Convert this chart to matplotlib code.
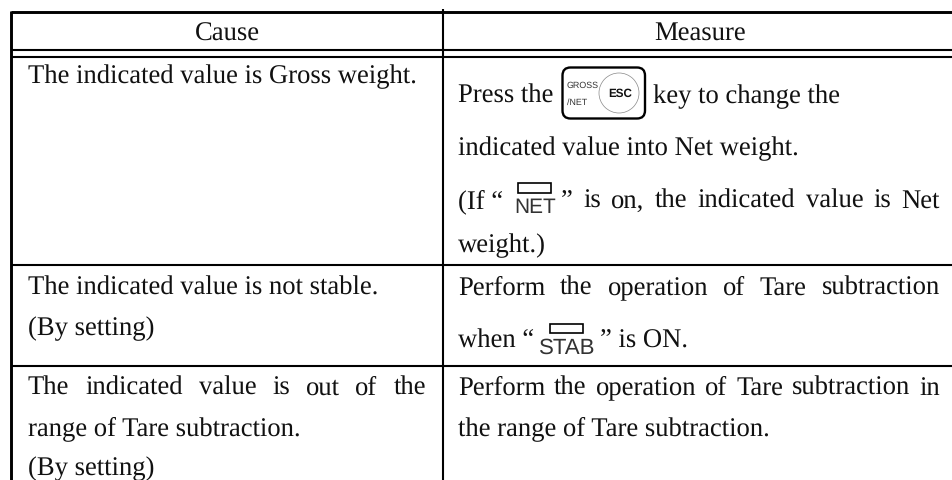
import matplotlib
matplotlib.use('Agg')
import matplotlib.pyplot as plt
import matplotlib.patches as mpatches

plt.rcParams['font.family'] = ['Liberation Serif', 'DejaVu Sans']
plt.rcParams['text.hinting'] = 'no_hinting'

FONT = 19.2
INK = '#111111'
GREY = '#333333'
SANS = 'Liberation Sans'

HEADERS = ['Cause', 'Measure']

# text, right edge when justified (None = plain), baseline
CAUSE_LINES = [
    ('The indicated value is Gross weight.', None, 83),
    ('The indicated value is not stable.', None, 295),
    ('(By setting)', None, 335),
    ('The indicated value is out of the', 426, 395),
    ('range of Tare subtraction.', None, 435),
    ('(By setting)', None, 475),
]
# left edge, text, right edge, baseline
MEASURE_LINES = [
    (458, 'Press the', None, 103),
    (653, 'key to change the', None, 103),
    (458, 'indicated value into Net weight.', None, 155),
    (458, '(If \u201c', None, 208),
    (561, '\u201d is on, the indicated value is Net', 940, 208),
    (458, 'weight.)', None, 252),
    (458, 'Perform the operation of Tare subtraction', 940, 295),
    (458, 'when \u201c', None, 348),
    (600, '\u201d is ON.', None, 348),
    (458, 'Perform the operation of Tare subtraction in', 940, 395),
    (458, 'the range of Tare subtraction.', None, 435),
]


def draw_text(ax, fig, text, x0, x1, y):
    if x1 is None:
        ax.text(x0, y, text, fontsize=FONT, va='baseline', ha='left', color=INK)
        return
    # justified line, spread the words out to the cell edge
    words = text.split(' ')
    r = fig.canvas.get_renderer()
    arts = [ax.text(x0, y, w, fontsize=FONT, va='baseline', ha='left', color=INK) for w in words]
    widths = [a.get_window_extent(r).width for a in arts]
    gap = (x1 - x0 - sum(widths)) / (len(words) - 1)
    x = x0
    for a, w in zip(arts, widths):
        a.set_x(x)
        x += w + gap


def main():
    fig = plt.figure(figsize=(9.53, 4.81), dpi=100)
    ax = fig.add_axes([0, 0, 1, 1])
    ax.set_xlim(0, 953)
    ax.set_ylim(481, 0)
    ax.axis('off')

    # table rules, no right border in the original crop
    ax.plot([11, 953], [12.5, 12.5], color='k', lw=2.1, solid_capstyle='butt')
    for y in [51, 57.5, 266, 367]:
        ax.plot([11, 953], [y, y], color='k', lw=1.5, solid_capstyle='butt')
    ax.plot([11.5, 11.5], [11.5, 481], color='k', lw=2.1, solid_capstyle='butt')
    ax.plot([443, 443], [10, 481], color='k', lw=1.5, solid_capstyle='butt')

    ax.text(227, 41, HEADERS[0], fontsize=FONT, ha='center', va='baseline', color=INK)
    ax.text(700, 40, HEADERS[1], fontsize=FONT, ha='center', va='baseline', color=INK)

    for text, x1, y in CAUSE_LINES:
        draw_text(ax, fig, text, 28, x1, y)

    for x0, text, x1, y in MEASURE_LINES:
        draw_text(ax, fig, text, x0, x1, y)

    # GROSS/NET ESC key
    ax.add_patch(mpatches.FancyBboxPatch((562.5, 68.5), 82.5, 51, boxstyle='round,pad=0,rounding_size=8',
                                         fc='white', ec='k', lw=1.7))
    ax.add_patch(mpatches.Circle((619, 94), 20, fc='white', ec='#888888', lw=0.5))
    ax.text(567, 86, 'GROSS', fontsize=6.4, family=SANS, ha='left', va='center', color=GREY)
    ax.text(567, 103, '/NET', fontsize=6.4, family=SANS, ha='left', va='center', color=GREY)
    ax.text(620, 94, 'ESC', fontsize=8.4, family=SANS, weight='bold',
            ha='center', va='center', color=INK)

    # NET lamp
    ax.add_patch(mpatches.Rectangle((518, 183.5), 33, 10, fc='white', ec='k', lw=1.2))
    ax.text(535, 213, 'NET', fontsize=15, family=SANS, ha='center', va='baseline', color=GREY)

    # STAB lamp
    ax.add_patch(mpatches.Rectangle((550, 324.5), 33, 9.5, fc='white', ec='k', lw=1.2))
    ax.text(567.5, 354, 'STAB', fontsize=16, family=SANS, ha='center', va='baseline', color=GREY)

    fig.savefig('out.png', dpi=100)


if __name__ == '__main__':
    main()
